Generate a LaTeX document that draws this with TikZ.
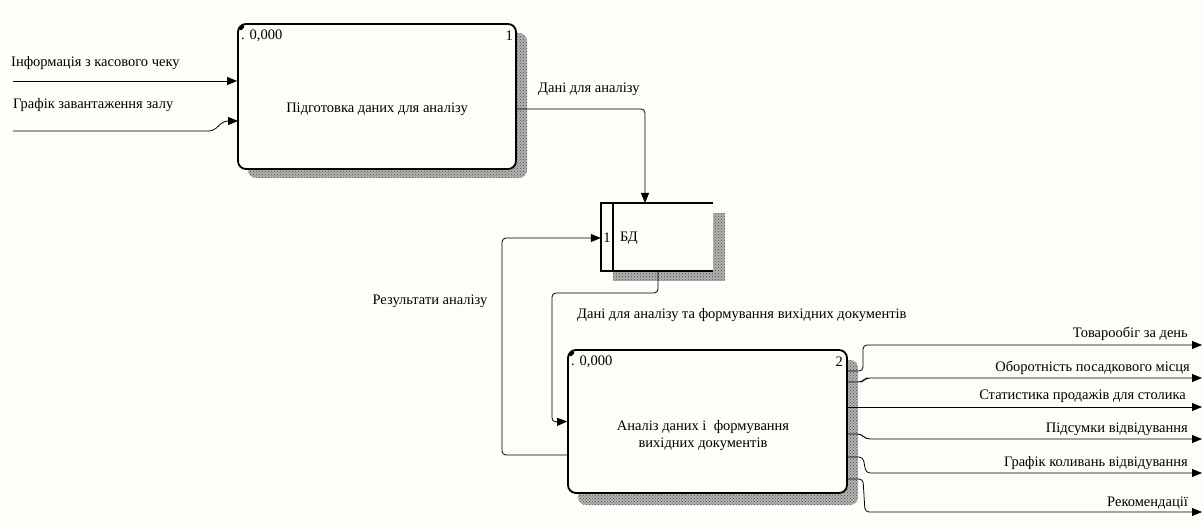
\documentclass[tikz,border=0pt]{standalone}
\usepackage{fontspec}
\setmainfont{Liberation Serif}
\usetikzlibrary{arrows.meta,patterns}
\definecolor{paper}{RGB}{255,253,247}

\tikzset{
  act/.style={draw, line width=1.8pt, rounded corners=8pt, fill=paper, inner sep=0pt},
  store/.style={fill=paper, inner sep=0pt},
  border/.style={line width=1.8pt},
  shade/.style={fill=black!30, postaction={pattern=crosshatch dots, pattern color=black!70}},
  flow/.style={line width=0.8pt, rounded corners=4pt, -{Triangle[length=10pt,width=8pt]}},
  txt/.style={font=\fontsize{14.5}{17}\selectfont, inner sep=0pt},
}

\begin{document}
\begin{tikzpicture}[x=1pt, y=-1pt]

    \fill[paper] (0,0) rectangle (1203,521);

    \fill[shade, rounded corners=8pt] (248,33) rectangle (527,178);
    \node[act, minimum width=278pt, minimum height=145pt] (prep) at (377,96.5) {};
    \node[txt] (prept) at (377,109) {Підготовка даних для аналізу};
    \node[txt, anchor=west] (prepn) at (241,36) {. 0,000};
    \node[txt, anchor=east] (prepk) at (513,36) {1};

    \fill[shade, rounded corners=8pt] (578,360) rectangle (858,505);
    \node[act, minimum width=279pt, minimum height=143pt] (anal) at (707.5,421.5) {};
    \node[txt, align=center] (analt) at (703,436) {Аналіз даних і \ формування\\вихідних документів};
    \node[txt, anchor=west] (analn) at (571,362) {. 0,000};
    \node[txt, anchor=east] (analk) at (843,362) {2};

    \fill[shade] (613,213) rectangle (725,281);
    \node[store, minimum width=112pt, minimum height=68pt] (db) at (657,237) {};
    \node[txt] (dbk) at (607,238) {1};
    \node[txt, anchor=west] (dbt) at (620,238) {БД};

    \node[txt, anchor=west] (in1t) at (11,63) {Інформація з касового чеку};
    \node[txt, anchor=west] (in2t) at (13,105) {Графік завантаження залу};
    \node[txt, anchor=west] (dat1) at (538,89) {Дані для аналізу};
    \node[txt] (rest) at (430,301) {Результати аналізу};
    \node[txt, anchor=west] (dat2) at (577,315) {Дані для аналізу та формування вихідних документів};

    \node[txt, anchor=east] (out1t) at (1188,334) {Товарообіг за день};
    \node[txt, anchor=east] (out2t) at (1190,368) {Оборотність посадкового місця};
    \node[txt, anchor=east] (out3t) at (1186,396) {Статистика продажів для столика};
    \node[txt, anchor=east] (out4t) at (1188,429) {Підсумки відвідування};
    \node[txt, anchor=east] (out5t) at (1188,463) {Графік коливань відвідування};
    \node[txt, anchor=east] (out6t) at (1188,503) {Рекомендації};

    \coordinate (in1) at (13,81);
    \coordinate (in2) at (13,131);
    \coordinate (out1) at (1202,345);
    \coordinate (out2) at (1202,378);
    \coordinate (out3) at (1202,407);
    \coordinate (out4) at (1202,439);
    \coordinate (out5) at (1202,473);
    \coordinate (out6) at (1202,512);

    \draw[border] (db.north east) -- (db.north west) -- (db.south west) -- (db.south east);
    \draw[border] ([xshift=12pt]db.north west) -- ([xshift=12pt]db.south west);
    \draw[line width=3pt, line cap=round] (240.5,29) -- (243,26.5);
    \draw[line width=3pt, line cap=round] (570.5,355) -- (573,352.5);

    \draw[flow] (in1) -- (prep.west |- in1);
    \draw[flow] (in2) -- (213,131) -- (224,121) -- (238,121);
    \draw[flow] (516,109) -- (645,109) -- (645,203);
    \draw[flow] (anal.west |- 0,455) -- (502,455) -- (502,238) -- (db.west |- 0,238);
    \draw[flow] (658,271) -- (658,293) -- (552,293) -- (552,422) -- (anal.west);

    \draw[flow] (847,371) -- (863,371) -- (863,345) -- (out1);
    \draw[flow] (847,382) -- (862,382) -- (866,378) -- (out2);
    \draw[flow] (847,407) -- (out3);
    \draw[flow] (847,434) -- (861,434) -- (866,439) -- (out4);
    \draw[flow] (847,457) -- (863,457) -- (866,473) -- (out5);
    \draw[flow] (847,479) -- (863,479) -- (865,512) -- (out6);

\end{tikzpicture}
\end{document}
